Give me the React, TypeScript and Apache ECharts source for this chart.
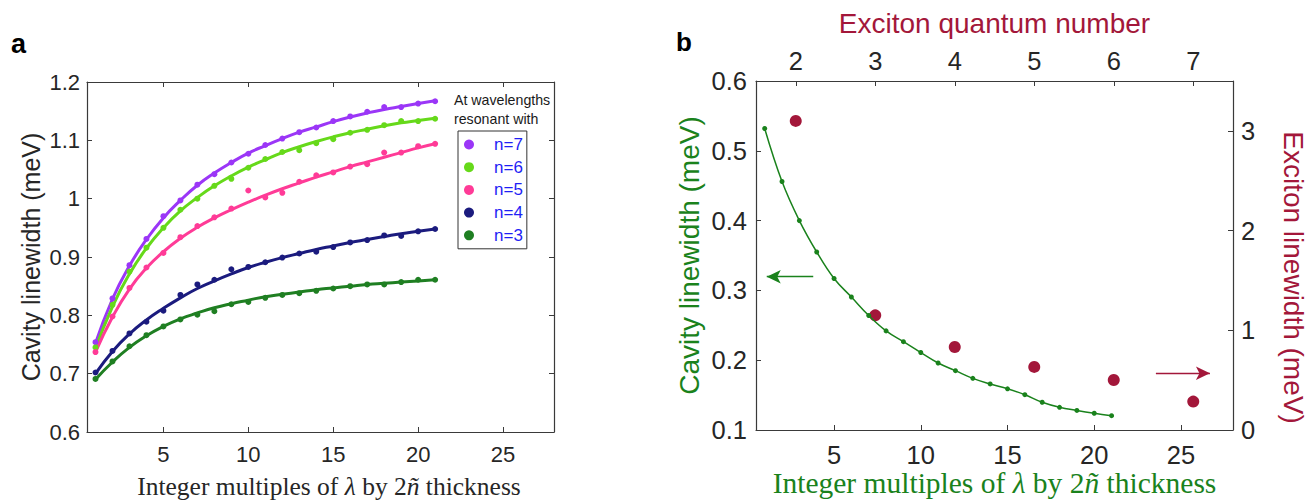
import React, { useEffect, useRef } from 'react';
import * as echarts from 'echarts';

const SANS = "'Liberation Sans', Arial, Helvetica, sans-serif";
const SERIF = "'Liberation Serif', 'Times New Roman', serif";

// ---------- panel a data ----------
const multiples = [1, 2, 3, 4, 5, 6, 7, 8, 9, 10, 11, 12, 13, 14, 15, 16, 17, 18, 19, 20, 21];

const n7Data = [0.754, 0.829, 0.886, 0.931, 0.970, 0.997, 1.024, 1.042, 1.062, 1.077, 1.092, 1.103, 1.114, 1.122, 1.133, 1.141, 1.149, 1.157, 1.157, 1.163, 1.167];
const n6Data = [0.745, 0.818, 0.875, 0.916, 0.950, 0.981, 1.000, 1.022, 1.034, 1.053, 1.068, 1.080, 1.083, 1.095, 1.102, 1.113, 1.118, 1.126, 1.133, 1.133, 1.137];
const n5Data = [0.737, 0.798, 0.847, 0.882, 0.907, 0.934, 0.953, 0.968, 0.983, 1.014, 1.002, 1.010, 1.029, 1.040, 1.045, 1.055, 1.059, 1.079, 1.079, 1.090, 1.094];
const n4Data = [0.702, 0.739, 0.769, 0.789, 0.808, 0.835, 0.853, 0.861, 0.879, 0.883, 0.891, 0.899, 0.906, 0.909, 0.917, 0.925, 0.929, 0.937, 0.936, 0.944, 0.948];
const n3Data = [0.691, 0.721, 0.747, 0.766, 0.781, 0.793, 0.801, 0.807, 0.819, 0.823, 0.830, 0.835, 0.838, 0.842, 0.846, 0.850, 0.853, 0.853, 0.857, 0.861, 0.861];

const n7Fit = [0.752, 0.828, 0.885, 0.930, 0.967, 0.997, 1.023, 1.044, 1.062, 1.078, 1.091, 1.103, 1.114, 1.123, 1.132, 1.140, 1.147, 1.153, 1.158, 1.163, 1.168];
const n6Fit = [0.743, 0.815, 0.871, 0.915, 0.950, 0.979, 1.002, 1.022, 1.039, 1.054, 1.067, 1.079, 1.089, 1.098, 1.106, 1.113, 1.119, 1.125, 1.130, 1.134, 1.138];
const n5Fit = [0.737, 0.797, 0.845, 0.881, 0.909, 0.932, 0.951, 0.967, 0.981, 0.994, 1.006, 1.017, 1.027, 1.037, 1.046, 1.055, 1.063, 1.071, 1.079, 1.087, 1.094];
const n4Fit = [0.700, 0.738, 0.768, 0.792, 0.812, 0.830, 0.846, 0.859, 0.871, 0.882, 0.891, 0.899, 0.906, 0.913, 0.919, 0.925, 0.930, 0.935, 0.940, 0.944, 0.948];
const n3Fit = [0.690, 0.720, 0.745, 0.765, 0.781, 0.794, 0.804, 0.813, 0.820, 0.826, 0.832, 0.836, 0.840, 0.844, 0.847, 0.850, 0.853, 0.855, 0.857, 0.859, 0.861];

const seriesNames = ['n=7', 'n=6', 'n=5', 'n=4', 'n=3'];
const seriesColors = ['#9b36f7', '#66d91a', '#ff3b97', '#1b1b7e', '#1f7f22'];
const seriesData = [n7Data, n6Data, n5Data, n4Data, n3Data];
const seriesFits = [n7Fit, n6Fit, n5Fit, n4Fit, n3Fit];

const xTickValues = [5, 10, 15, 20, 25];

// ---------- panel b data ----------
const cavityLinewidth = [0.532, 0.456, 0.400, 0.355, 0.317, 0.2905, 0.264, 0.242, 0.2265, 0.211, 0.196, 0.185, 0.174, 0.166, 0.159, 0.1506, 0.1397, 0.1325, 0.128, 0.124, 0.1205];
const quantumNumbers = [2, 3, 4, 5, 6, 7];
const excitonLinewidth = [3.10, 1.15, 0.833, 0.633, 0.502, 0.285];
const excitonTicks = [0, 1, 2, 3];

const GREEN = '#1a821c';
const CRIMSON = '#a3173a';
const AXIS = '#3a3a3a';
const LABEL = '#262626';

const xName = 'Integer multiples of {i|λ} by 2{i|ñ} thickness';

function App() {
  const ref = useRef<HTMLDivElement>(null);

  useEffect(() => {
    const chart = echarts.init(ref.current as HTMLDivElement, null, { renderer: 'svg' });

    const tick = { show: true, inside: true, length: 5, lineStyle: { color: AXIS, width: 1 } };
    const line = { show: true, lineStyle: { color: AXIS, width: 1.2 } };

    const leftSeries: any[] = [];
    seriesNames.forEach((name, k) => {
      leftSeries.push({
        name: 'fit ' + name,
        type: 'line',
        xAxisIndex: 0,
        yAxisIndex: 0,
        smooth: true,
        showSymbol: false,
        silent: true,
        lineStyle: { color: seriesColors[k], width: 3 },
        data: multiples.map((m, i) => [m, seriesFits[k][i]]),
        z: 2,
      });
      leftSeries.push({
        name,
        type: 'scatter',
        xAxisIndex: 0,
        yAxisIndex: 0,
        symbol: 'circle',
        symbolSize: 6,
        itemStyle: { color: seriesColors[k], opacity: 1 },
        data: multiples.map((m, i) => [m, seriesData[k][i]]),
        z: 3,
      });
    });

    const option: any = {
      animation: false,
      textStyle: { fontFamily: SANS },
      grid: [
        { left: 87, top: 82, width: 467, height: 350, outerBoundsMode: 'none', containLabel: false },
        { left: 756, top: 81, width: 477, height: 349, outerBoundsMode: 'none', containLabel: false },
      ],
      legend: {
        data: seriesNames,
        orient: 'vertical',
        left: 458,
        top: 131,
        icon: 'circle',
        itemWidth: 40,
        itemHeight: 10,
        itemGap: 5.7,
        padding: [5, 4, 5, 6],
        borderColor: '#333',
        borderWidth: 1,
        itemStyle: { opacity: 1 },
        textStyle: { fontSize: 17, lineHeight: 17, color: '#1f1ff5', fontFamily: SANS },
      },
      xAxis: [
        {
          type: 'value', gridIndex: 0, position: 'bottom', min: 0.5, max: 28,
          axisLine: line, axisTick: { ...tick, customValues: xTickValues },
          axisLabel: { customValues: xTickValues, fontSize: 22, lineHeight: 22, color: LABEL, margin: 11, fontFamily: SANS },
          splitLine: { show: false },
          name: xName, nameLocation: 'middle', nameGap: 40, nameMoveOverlap: false,
          nameTextStyle: {
            fontFamily: SERIF, fontSize: 25.5, lineHeight: 28, color: '#262626', padding: [0, 0, 0, 17],
            rich: { i: { fontFamily: SERIF, fontStyle: 'italic', fontSize: 25.5, lineHeight: 28, color: '#262626' } },
          },
        },
        {
          type: 'value', gridIndex: 0, position: 'top', min: 0.5, max: 28,
          axisLine: line, axisTick: { ...tick, customValues: xTickValues },
          axisLabel: { show: false }, splitLine: { show: false },
        },
        {
          type: 'value', gridIndex: 1, position: 'bottom', min: 0.5, max: 28,
          axisLine: line, axisTick: { ...tick, customValues: xTickValues },
          axisLabel: { customValues: xTickValues, fontSize: 25.5, lineHeight: 22, color: LABEL, margin: 14, fontFamily: SANS },
          splitLine: { show: false },
          name: xName, nameLocation: 'middle', nameGap: 37, nameMoveOverlap: false,
          nameTextStyle: {
            fontFamily: SERIF, fontSize: 29.5, lineHeight: 32, color: GREEN,
            rich: { i: { fontFamily: SERIF, fontStyle: 'italic', fontSize: 29.5, lineHeight: 32, color: GREEN } },
          },
        },
        {
          type: 'value', gridIndex: 1, position: 'top', min: 1.5, max: 7.5,
          axisLine: line, axisTick: { ...tick, customValues: quantumNumbers },
          axisLabel: { customValues: quantumNumbers, fontSize: 25.5, color: LABEL, margin: 7, fontFamily: SANS },
          splitLine: { show: false },
          name: 'Exciton quantum number', nameLocation: 'middle', nameGap: 44,
          nameTextStyle: { fontSize: 28, color: CRIMSON, fontFamily: SANS },
        },
      ],
      yAxis: [
        {
          type: 'value', gridIndex: 0, position: 'left', min: 0.6, max: 1.2, interval: 0.1,
          axisLine: line, axisTick: tick,
          axisLabel: { fontSize: 22, color: LABEL, margin: 7, fontFamily: SANS },
          splitLine: { show: false },
          name: 'Cavity linewidth (meV)', nameLocation: 'middle', nameGap: 44,
          nameTextStyle: { fontSize: 25, color: LABEL, fontFamily: SANS },
        },
        {
          type: 'value', gridIndex: 0, position: 'right', min: 0.6, max: 1.2, interval: 0.1,
          axisLine: line, axisTick: tick, axisLabel: { show: false }, splitLine: { show: false },
        },
        {
          type: 'value', gridIndex: 1, position: 'left', min: 0.1, max: 0.6, interval: 0.1,
          axisLine: line, axisTick: tick,
          axisLabel: { fontSize: 25.5, color: LABEL, margin: 9, fontFamily: SANS },
          splitLine: { show: false },
          name: 'Cavity linewidth (meV)', nameLocation: 'middle', nameGap: 53,
          nameTextStyle: { fontSize: 28, color: GREEN, fontFamily: SANS },
        },
        {
          type: 'value', gridIndex: 1, position: 'right', min: 0, max: 3.5,
          axisLine: line, axisTick: { ...tick, customValues: excitonTicks },
          axisLabel: { customValues: excitonTicks, fontSize: 25.5, color: LABEL, margin: 8, fontFamily: SANS },
          splitLine: { show: false },
          name: 'Exciton linewidth (meV)', nameLocation: 'middle', nameGap: 46, nameRotate: -90,
          nameTextStyle: { fontSize: 28, color: CRIMSON, fontFamily: SANS, padding: [0, 0, 0, 44] },
        },
      ],
      series: [
        ...leftSeries,
        {
          name: 'cavity',
          type: 'line',
          xAxisIndex: 2,
          yAxisIndex: 2,
          smooth: 0.4,
          symbol: 'circle',
          symbolSize: 5,
          showSymbol: true,
          lineStyle: { color: GREEN, width: 1.5 },
          itemStyle: { color: GREEN, opacity: 1 },
          data: multiples.map((m, i) => [m, cavityLinewidth[i]]),
          markLine: {
            silent: true,
            symbol: ['none', 'arrow'],
            symbolSize: [10, 14],
            label: { show: false },
            lineStyle: { color: GREEN, width: 1.3, type: 'solid' },
            data: [[{ coord: [3.8, 0.3196] }, { coord: [1.12, 0.3196] }]],
          },
        },
        {
          name: 'exciton',
          type: 'scatter',
          xAxisIndex: 3,
          yAxisIndex: 3,
          symbol: 'circle',
          symbolSize: 12,
          itemStyle: { color: CRIMSON, opacity: 1 },
          data: quantumNumbers.map((q, i) => [q, excitonLinewidth[i]]),
          markLine: {
            silent: true,
            symbol: ['none', 'arrow'],
            symbolSize: [10, 14],
            label: { show: false },
            lineStyle: { color: CRIMSON, width: 1.3, type: 'solid' },
            data: [[{ coord: [6.53, 0.569] }, { coord: [7.21, 0.569] }]],
          },
        },
      ],
      graphic: [
        { type: 'text', left: 11, top: 30, style: { text: 'a', fontSize: 27, fontWeight: 'bold', fill: '#000', fontFamily: SANS } },
        { type: 'text', left: 676, top: 29, style: { text: 'b', fontSize: 26, fontWeight: 'bold', fill: '#000', fontFamily: SANS } },
        { type: 'text', left: 454, top: 93, style: { text: 'At wavelengths', fontSize: 14.2, fill: '#1a1a1a', fontFamily: SANS } },
        { type: 'text', left: 454, top: 112, style: { text: 'resonant with', fontSize: 14.2, fill: '#1a1a1a', fontFamily: SANS } },
      ],
    };

    chart.setOption(option);
    return () => chart.dispose();
  }, []);

  return (
    <div
      ref={ref}
      style={{ position: 'absolute', left: 0, top: 0, width: 1311, height: 502, background: '#fff' }}
    />
  );
}

export default App;
